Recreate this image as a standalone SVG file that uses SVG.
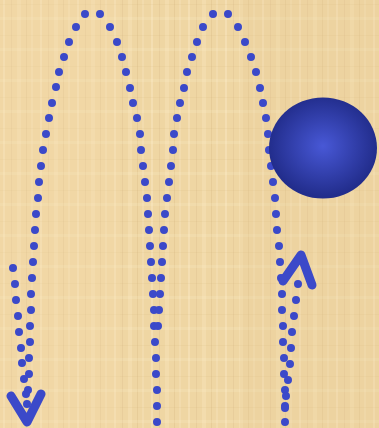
<svg xmlns="http://www.w3.org/2000/svg" width="379" height="428" viewBox="0 0 379 428">
<defs>
<style>
.d{fill:none;stroke:#3b49c9;stroke-width:8;stroke-linecap:round}
.a{fill:none;stroke:#3b49c9;stroke-width:9;stroke-linecap:round;stroke-linejoin:round}
</style>
<radialGradient id="sg" cx="0.5" cy="0.48" r="0.5">
<stop offset="0" stop-color="#4858d6"/>
<stop offset="1" stop-color="#222d8c"/>
</radialGradient>
<pattern id="pv" width="37" height="428" patternUnits="userSpaceOnUse">
<rect x="3" width="2" height="428" fill="#fff4d6" opacity="0.3"/>
<rect x="11" width="1" height="428" fill="#c9a872" opacity="0.18"/>
<rect x="17" width="4" height="428" fill="#fff1cf" opacity="0.22"/>
<rect x="26" width="1" height="428" fill="#c9a872" opacity="0.22"/>
<rect x="31" width="2" height="428" fill="#fff4d6" opacity="0.18"/>
</pattern>
<pattern id="ph" width="379" height="31" patternUnits="userSpaceOnUse">
<rect y="4" width="379" height="1" fill="#c9a872" opacity="0.1"/>
<rect y="17" width="379" height="3" fill="#fff4d6" opacity="0.15"/>
</pattern>
</defs>
<g id="background">
<rect width="379" height="428" fill="#efd6a3"/>
<rect width="379" height="428" fill="url(#pv)"/>
<rect width="379" height="428" fill="url(#ph)"/>
<rect x="0" y="0" width="120" height="428" fill="#f5dcab" opacity="0.3"/>
<rect x="240" y="0" width="139" height="428" fill="#e8cd97" opacity="0.25"/>
</g>
<g id="connectors">
<path id="left-arch-left" class="d" d="M85 14h0M76 27h0M69 42h0M64 57h0M59 72h0M56 87h0M52 103h0M49 118h0M46 134h0M43 150h0M41 166h0M39 182h0M38 198h0M36 214h0M35 230h0M34 246h0M33 262h0M32 278h0M31 294h0M31 310h0M30 326h0M30 342h0M29 358h0M29 374h0M28 390h0M27 404h0"/>
<path id="left-short" class="d" d="M13 268h0M15 284h0M16 300h0M18 316h0M19 332h0M21 348h0M22 363h0M24 379h0M26 394h0"/>
<path id="left-arch-right" class="d" d="M100 14h0M110 27h0M117 42h0M122 57h0M126 72h0M130 88h0M133 103h0M137 118h0M140 134h0M141 150h0M143 166h0M145 182h0M147 198h0M148 214h0M149 230h0M150 246h0M151 262h0M152 278h0M153 294h0M154 310h0M154 326h0M155 342h0M156 358h0M156 374h0M157 390h0M157 406h0M157 422h0"/>
<path id="right-arch-left" class="d" d="M213 14h0M203 27h0M197 42h0M192 57h0M187 72h0M184 88h0M180 103h0M177 118h0M174 134h0M173 150h0M171 166h0M169 182h0M167 198h0M165 214h0M164 230h0M163 246h0M162 262h0M161 278h0M160 294h0M159 310h0M158 326h0"/>
<path id="right-arch-right" class="d" d="M228 14h0M238 27h0M245 42h0M251 57h0M256 72h0M260 88h0M263 103h0M266 118h0M268 134h0M269 150h0M271 166h0M273 182h0M275 198h0M276 214h0M277 230h0M279 246h0M280 262h0M281 278h0M282 294h0M282 310h0M283 326h0M283 342h0M284 358h0M284 374h0M285 390h0M285 406h0M285 422h0"/>
<path id="right-short" class="d" d="M298 284h0M296 300h0M294 316h0M292 332h0M291 348h0M290 364h0M288 380h0M286 396h0M285 408h0"/>
<polyline id="arrow-down" class="a" points="11,396 27,422 41,394"/>
<polyline id="arrow-up" class="a" points="283,281 301,255 312,285"/>
</g>
<g id="ball">
<ellipse cx="323" cy="148" rx="54" ry="50.5" fill="url(#sg)"/>
</g>
</svg>
